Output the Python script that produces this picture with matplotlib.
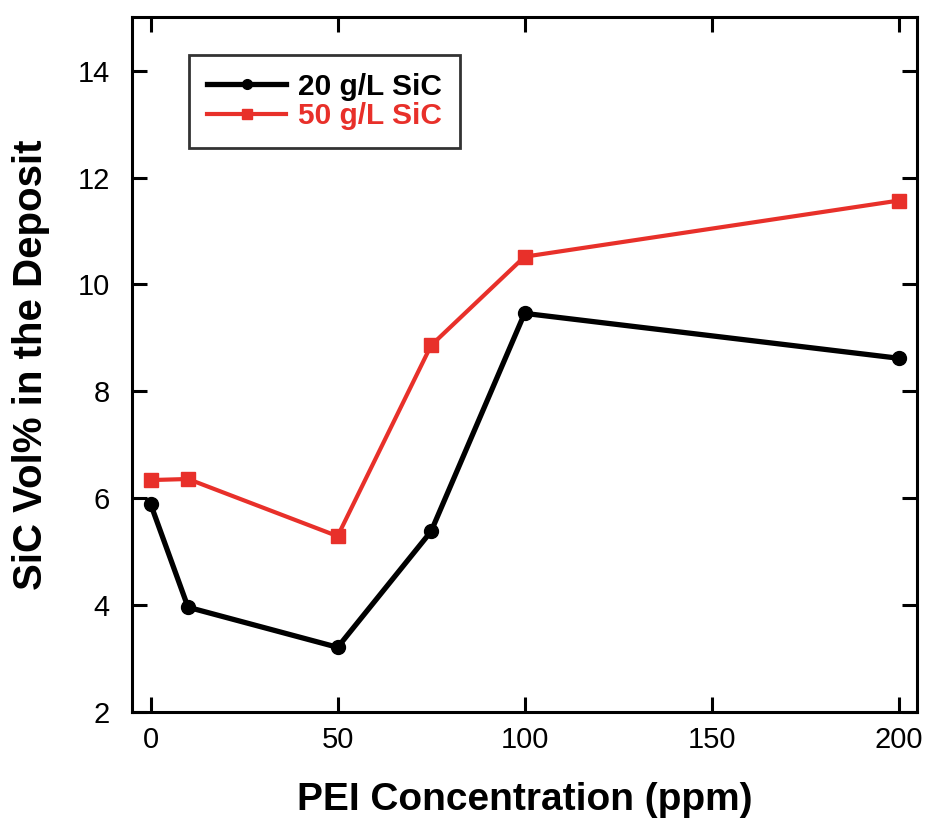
import matplotlib
matplotlib.use("Agg")
from matplotlib import pyplot as plt

plt.rcParams["font.family"] = ["Liberation Sans", "DejaVu Sans"]

pei_ppm = [0, 10, 50, 75, 100, 200]
sic_20 = [5.89, 3.96, 3.21, 5.38, 9.46, 8.62]
sic_50 = [6.34, 6.36, 5.29, 8.86, 10.52, 11.57]

x_ticks = [0, 50, 100, 150, 200]
y_ticks = [2, 4, 6, 8, 10, 12, 14]

RED = "#e8302a"

fig = plt.figure(figsize=(9.26, 8.25), dpi=100)
ax = fig.add_axes([0.1425, 0.137, 0.848, 0.842])

ax.plot(pei_ppm, sic_20, color="black", linewidth=3.8, marker="o",
        markersize=10, label="20 g/L SiC")
ax.plot(pei_ppm, sic_50, color=RED, linewidth=3.0, marker="s",
        markersize=9.5, label="50 g/L SiC")

ax.set_xlim(-5, 205)
ax.set_ylim(2, 15)
ax.set_xticks(x_ticks)
ax.set_yticks(y_ticks)
ax.tick_params(direction="in", length=11, width=2.2, labelsize=21,
               top=True, right=True)
ax.tick_params(axis="x", pad=10)
ax.tick_params(axis="y", pad=16)
for spine in ax.spines.values():
    spine.set_linewidth(2.2)

ax.set_xlabel("PEI Concentration (ppm)", fontsize=28, fontweight="bold",
              labelpad=20)
ax.set_ylabel("SiC Vol% in the Deposit", fontsize=29, fontweight="bold",
              labelpad=20)

leg = ax.legend(loc="upper left", bbox_to_anchor=(0.073, 0.946), fontsize=21.5,
                frameon=True, fancybox=False, edgecolor="black",
                markerscale=0.7, handlelength=2.65, handletextpad=0.4,
                borderpad=0.6, labelspacing=0.05, borderaxespad=0)
leg.get_frame().set_linewidth(2.0)
for text, line in zip(leg.get_texts(), leg.get_lines()):
    text.set_fontweight("bold")
    text.set_color(line.get_color())

fig.savefig("out.png", dpi=100)
